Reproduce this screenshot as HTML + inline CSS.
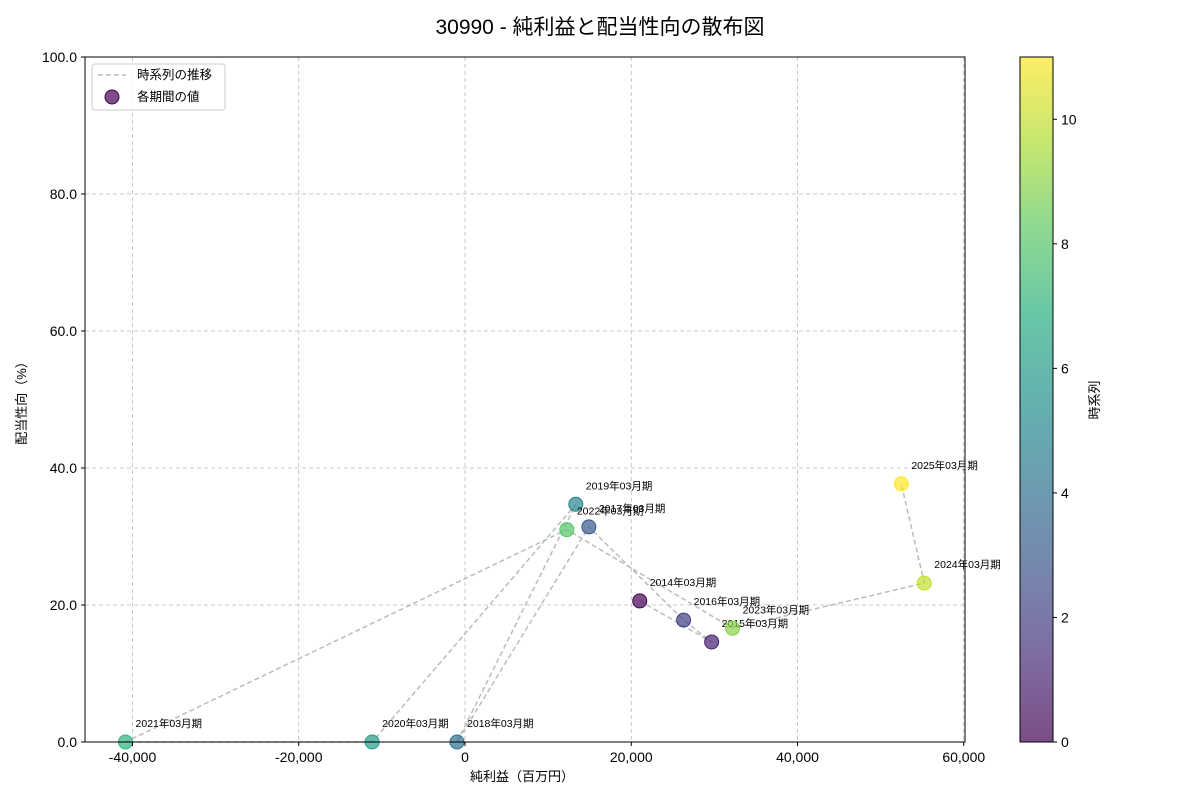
<!DOCTYPE html>
<html><head><meta charset="utf-8"><style>
body{margin:0;background:#fff;}
svg{display:block;font-family:"Liberation Sans","Noto Sans CJK JP",sans-serif;}
</style></head><body>
<svg id="chart" width="1200" height="800" xmlns="http://www.w3.org/2000/svg">
<defs><linearGradient id="vir" x1="0" y1="1" x2="0" y2="0">
<stop offset="0" stop-color="#440154"/><stop offset="0.125" stop-color="#472d7b"/><stop offset="0.25" stop-color="#3b528b"/><stop offset="0.375" stop-color="#2c728e"/><stop offset="0.5" stop-color="#21918c"/><stop offset="0.625" stop-color="#28ae80"/><stop offset="0.75" stop-color="#5ec962"/><stop offset="0.875" stop-color="#addc30"/><stop offset="1" stop-color="#fde725"/></linearGradient></defs>
<text x="600" y="34" text-anchor="middle" font-size="21" fill="#000">30990 - 純利益と配当性向の散布図</text>
<g id="grid"></g>
<g id="series"></g>
<rect x="85" y="57" width="880" height="685" fill="none" stroke="#000" stroke-width="1"/>
<g id="axes"></g>
<text x="522" y="781" text-anchor="middle" font-size="13">純利益（百万円）</text>
<text transform="translate(26,400) rotate(-90)" text-anchor="middle" font-size="13">配当性向（%）</text>
<g>
<rect x="92" y="64" width="133" height="46" rx="3" fill="#fff" fill-opacity="0.8" stroke="#ccc"/>
<line x1="98" y1="75" x2="126" y2="75" stroke="#bbb" stroke-width="1.5" stroke-dasharray="5,3"/>
<text x="137" y="79" font-size="12.5">時系列の推移</text>
<circle cx="112" cy="97" r="7" fill="#440154" fill-opacity="0.7" stroke="#440154"/>
<text x="137" y="101" font-size="12.5">各期間の値</text>
</g>
<rect x="1020" y="57" width="33" height="685" fill="url(#vir)" opacity="0.7"/>
<rect x="1020" y="57" width="33" height="685" fill="none" stroke="#000" stroke-width="1"/>
<g id="cbar"></g>
<text transform="translate(1099,400) rotate(-90)" text-anchor="middle" font-size="13">時系列</text>
</svg>
<script>
const periods=["2014年03月期","2015年03月期","2016年03月期","2017年03月期","2018年03月期","2019年03月期","2020年03月期","2021年03月期","2022年03月期","2023年03月期","2024年03月期","2025年03月期"];
const netIncome=[21020,29670,26300,14900,-960,13330,-11170,-40840,12250,32190,55250,52490];
const payoutRatio=[20.6,14.6,17.8,31.4,0,34.7,0,0,31.0,16.6,23.2,37.7];
const xTicks=[-40000,-20000,0,20000,40000,60000];
const yTicks=[0,20,40,60,80,100];
const cTicks=[0,2,4,6,8,10];
const NS="http://www.w3.org/2000/svg";
const X=v=>465+v*0.0083125;
const Y=v=>742-v*6.85;
const C=v=>742-v/11*685;
const vs=[[68,1,84],[71,45,123],[59,82,139],[44,114,142],[33,145,140],[40,174,128],[94,201,98],[173,220,48],[253,231,37]];
function vir(t){const p=t*8,i=Math.min(7,Math.floor(p)),f=p-i;const a=vs[i],b=vs[i+1];return "rgb("+a.map((c,k)=>Math.round(c+(b[k]-c)*f)).join(",")+")";}
function mk(tag,at,parent){const e=document.createElementNS(NS,tag);for(const k in at)e.setAttribute(k,at[k]);document.getElementById(parent).appendChild(e);return e;}
xTicks.forEach(t=>{
 const g=mk("line",{x1:X(t),x2:X(t),y1:57,y2:742,stroke:"#bbb","stroke-dasharray":"4,3","stroke-width":0.8},"grid");
 
 
 mk("line",{x1:X(t),x2:X(t),y1:742,y2:746,stroke:"#000"},"axes");
 const l=mk("text",{x:X(t),y:762,"text-anchor":"middle","font-size":14},"axes");l.textContent=t.toLocaleString("en-US");
 
 
});
yTicks.forEach(t=>{
 const g=mk("line",{x1:85,x2:965,y1:Y(t),y2:Y(t),stroke:"#bbb","stroke-dasharray":"4,3","stroke-width":0.8},"grid");
 
 
 mk("line",{x1:81,x2:85,y1:Y(t),y2:Y(t),stroke:"#000"},"axes");
 const l=mk("text",{x:77,y:Y(t)+5,"text-anchor":"end","font-size":14},"axes");l.textContent=t.toFixed(1);
 
 
});
cTicks.forEach(t=>{
 mk("line",{x1:1053,x2:1057,y1:C(t),y2:C(t),stroke:"#000"},"cbar");
 const l=mk("text",{x:1061,y:C(t)+5,"font-size":14},"cbar");l.textContent=t;
 
 
});
const pts=netIncome.map((v,i)=>X(v)+","+Y(payoutRatio[i])).join(" ");
const pl=mk("polyline",{points:pts,fill:"none",stroke:"#bbb","stroke-width":1.5,"stroke-dasharray":"5,3"},"series");


netIncome.forEach((v,i)=>{
 const col=vir(i/11);
 const c=mk("circle",{cx:X(v),cy:Y(payoutRatio[i]),r:7,fill:col,"fill-opacity":0.7,stroke:col},"series");
 
 
 const t=mk("text",{x:X(v)+10,y:Y(payoutRatio[i])-15,"font-size":10.5},"series");t.textContent=periods[i];
 
 
});
</script>
</body></html>
